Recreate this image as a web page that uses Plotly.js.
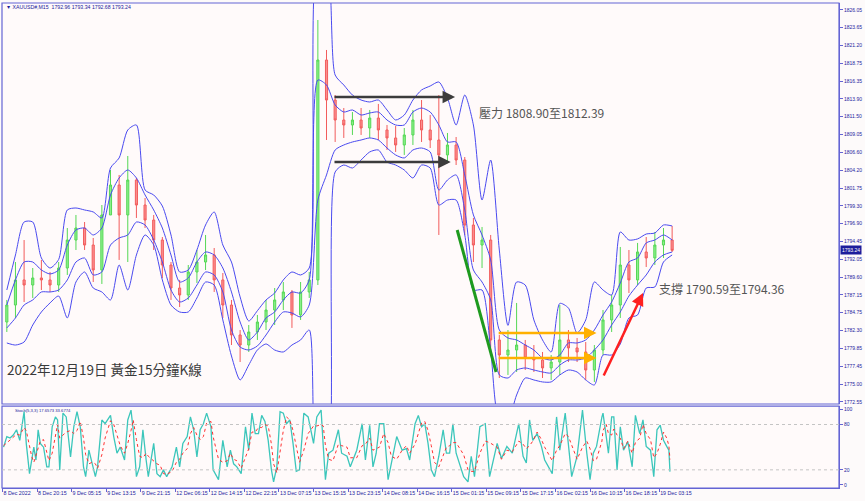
<!DOCTYPE html>
<html>
<head>
<meta charset="utf-8">
<script src="https://cdn.plot.ly/plotly-3.0.1.min.js"></script>
<style>
  html, body { margin: 0; padding: 0; background: #fdfafa; }
  #chart { width: 865px; height: 501px; }
</style>
</head>
<body>
<div id="chart"></div>
<script>
// ---------- data (15-minute bar index, 2-hour candles) ----------
const bars = [4,12,20,28,36,44,52,60,68,76,84,92,100,108,116,124,132,140,148,156,164,172,180,188,196,204,212,220,228,236,244,252,260,268,276,284,292,300,308,316,324,332,340,348,356,364,372,380,388,396,404,412,420,428,436,444,452,460,468,476,484,492,500,508,516,524,532,540,548,556,564,572,580,588,596,604,612,620];

const openP = [1783.46,1785.78,1789.20,1788.51,1789.47,1789.20,1788.51,1790.83,1794.65,1796.29,
  1793.97,1790.56,1798.07,1802.16,1798.07,1802.84,1799.43,1797.38,1794.65,1791.24,
  1788.10,1787.15,1790.29,1791.65,1792.61,1789.20,1785.78,1781.69,1780.32,1782.10,
  1783.46,1785.10,1786.47,1787.56,1784.42,1787.56,1789.20,1819.22,1813.76,1811.03,
  1810.35,1811.03,1809.94,1811.30,1809.67,1808.58,1807.62,1808.99,1811.03,1809.67,
  1808.30,1806.26,1807.62,1805.57,1796.70,1793.97,1794.65,1781.01,1778.96,1779.64,
  1780.32,1778.55,1778.28,1777.19,1778.00,1781.01,1779.92,1779.37,1776.91,1779.64,
  1783.74,1785.78,1791.24,1789.20,1793.02,1792.20,1793.97,1794.65];

const highP = [1786.47,1791.65,1794.65,1790.83,1791.93,1790.29,1791.65,1796.29,1798.07,1797.11,
  1794.93,1799.43,1804.21,1803.53,1806.12,1803.12,1800.39,1798.07,1795.06,1791.65,
  1789.20,1791.24,1793.29,1795.34,1793.56,1790.15,1786.47,1782.37,1783.05,1784.42,
  1786.47,1788.10,1788.92,1787.83,1788.92,1790.29,1824.68,1820.59,1814.44,1812.67,
  1812.12,1812.67,1812.40,1813.22,1810.35,1810.21,1809.94,1812.40,1813.76,1811.71,
  1814.44,1809.26,1808.71,1805.98,1797.66,1796.43,1795.34,1781.69,1782.37,1786.06,
  1781.01,1780.32,1779.37,1778.96,1785.78,1782.37,1781.28,1780.73,1780.32,1785.10,
  1787.15,1793.70,1793.29,1794.25,1795.06,1795.75,1796.29,1796.57];

const lowP = [1782.10,1784.01,1786.19,1786.74,1787.83,1787.56,1787.56,1789.88,1793.29,1793.29,
  1788.92,1788.65,1798.07,1791.93,1791.65,1797.66,1796.29,1793.29,1789.47,1786.47,
  1785.51,1786.47,1788.79,1790.56,1787.56,1784.01,1780.32,1778.00,1779.37,1781.01,
  1782.37,1783.05,1785.10,1782.65,1783.74,1786.74,1788.51,1808.30,1808.03,1808.58,
  1808.99,1808.99,1808.58,1808.30,1806.94,1806.67,1806.26,1807.62,1808.03,1807.21,
  1795.34,1805.30,1804.89,1795.34,1791.65,1790.83,1778.96,1775.82,1776.23,1776.64,
  1776.91,1776.64,1775.82,1775.55,1776.23,1778.00,1778.00,1775.55,1775.28,1778.96,
  1782.10,1784.01,1787.42,1788.51,1790.97,1791.24,1792.20,1793.02];

const closeP = [1785.78,1789.20,1788.51,1789.47,1789.20,1788.51,1790.83,1794.65,1796.29,1793.97,
  1790.56,1798.07,1802.16,1798.07,1802.84,1799.43,1797.38,1794.65,1791.24,1788.10,
  1787.15,1790.29,1791.65,1792.61,1789.20,1785.78,1781.69,1780.32,1782.10,1783.46,
  1785.10,1786.47,1787.56,1784.42,1787.56,1789.20,1819.22,1813.76,1811.03,1810.35,
  1811.03,1809.94,1811.30,1809.67,1808.58,1807.62,1808.99,1811.03,1809.67,1808.30,
  1806.26,1807.62,1805.57,1796.70,1793.97,1794.65,1781.01,1778.96,1779.64,1780.32,
  1778.55,1778.28,1777.19,1778.00,1781.01,1779.92,1779.37,1776.91,1779.64,1783.74,
  1785.78,1791.24,1789.20,1793.02,1792.20,1793.97,1794.65,1793.24];

// outer / inner envelope lines
const outerUpper = [1787.83,1792.61,1797.11,1797.11,1792.20,1790.83,1792.00,1798.75,1799.02,1798.75,
  1798.48,1797.66,1804.48,1805.85,1809.67,1810.35,1801.48,1800.80,1799.29,1795.34,
  1790.29,1790.56,1793.29,1796.70,1798.48,1793.97,1791.65,1786.88,1783.60,1785.00,
  1786.47,1787.42,1789.20,1790.29,1789.88,1790.83,1832.87,1832.87,1817.17,1815.81,
  1814.44,1813.76,1813.49,1813.76,1812.40,1811.03,1811.71,1813.76,1815.13,1815.67,
  1816.22,1814.04,1810.35,1814.44,1810.35,1800.11,1805.57,1793.29,1783.00,1788.92,
  1788.51,1783.74,1781.01,1779.37,1786.00,1785.37,1781.96,1783.74,1788.92,1787.83,
  1787.15,1795.75,1794.65,1794.80,1795.47,1795.61,1796.70,1796.57];

const innerUpper = [1785.78,1789.20,1791.65,1791.65,1790.56,1790.02,1790.56,1793.97,1796.02,1796.29,
  1795.34,1796.29,1800.80,1803.12,1804.21,1803.12,1800.80,1798.75,1796.29,1792.61,
  1788.92,1789.47,1791.65,1793.02,1792.61,1790.83,1787.56,1783.46,1781.01,1782.10,
  1784.01,1784.83,1786.47,1787.56,1787.42,1789.20,1816.49,1815.81,1813.08,1812.12,
  1812.40,1811.71,1811.99,1812.12,1811.03,1810.35,1810.35,1812.12,1812.67,1812.12,
  1810.35,1808.03,1808.03,1803.53,1798.07,1795.34,1791.93,1782.37,1781.28,1781.01,
  1780.32,1779.64,1778.55,1778.28,1778.96,1780.60,1780.60,1781.01,1782.37,1784.42,
  1786.19,1788.79,1791.65,1792.20,1794.25,1794.65,1795.34,1794.65];

const innerLower = [1782.65,1784.01,1785.78,1786.47,1787.56,1787.56,1787.83,1789.20,1791.65,1792.20,
  1789.88,1790.29,1793.97,1794.93,1795.34,1797.11,1796.70,1794.65,1791.65,1787.83,
  1786.19,1786.74,1788.51,1790.29,1789.88,1787.56,1782.37,1780.05,1779.64,1780.19,
  1781.69,1783.46,1784.83,1784.69,1784.15,1785.78,1800.11,1803.53,1806.94,1807.62,
  1808.03,1808.30,1808.58,1808.30,1807.21,1806.26,1805.85,1806.94,1807.21,1806.67,
  1801.48,1802.84,1803.53,1798.75,1790.56,1788.92,1786.47,1776.23,1775.82,1776.91,
  1777.19,1776.91,1776.64,1776.50,1777.59,1778.28,1778.28,1778.55,1779.64,1781.01,
  1783.05,1784.83,1787.01,1788.51,1789.88,1791.65,1792.61,1793.02];

const outerLower = [1780.60,1780.32,1780.73,1783.05,1784.83,1786.06,1787.01,1784.01,1788.92,1790.29,
  1788.10,1787.56,1786.47,1791.24,1787.83,1792.61,1795.34,1793.97,1789.20,1785.78,
  1784.83,1784.83,1786.74,1788.92,1788.51,1783.74,1778.82,1775.55,1777.59,1779.64,
  1780.46,1779.64,1779.37,1780.32,1781.01,1782.37,1761.90,1761.90,1803.94,1804.89,
  1804.48,1805.57,1806.67,1806.94,1805.30,1804.89,1804.21,1803.12,1804.89,1804.48,
  1799.43,1800.11,1800.11,1795.34,1787.83,1787.83,1779.64,1770.09,1770.09,1773.50,
  1775.82,1775.55,1775.28,1775.28,1776.23,1776.91,1776.64,1775.55,1774.87,1778.96,
  1778.96,1780.46,1784.01,1784.42,1788.10,1788.24,1791.65,1792.61];

// stochastic (5,3,3)
const stochBar = [1,4,7,10,13,16,20,22,25,27,29,31,33,35,38,41,43,46,49,51,53,56,59,63,66,69,72,75,77,80,83,86,88,92,95,100,103,106,109,113,116,119,121,124,127,130,133,135,140,143,146,149,152,157,161,164,167,171,174,177,180,183,186,189,193,195,200,204,208,211,214,217,221,225,228,231,234,237,240,243,246,249,251,254,257,260,263,266,269,272,275,279,283,288,291,295,297,299,302,306,311,314,319,322,328,333,336,340,343,346,349,353,357,360,365,370,374,377,382,385,388,391,394,397,400,404,408,411,414,417,420,427,431,434,437,442,447,451,458,462,467,472,478,482,485,488,491,495,499,502,509,513,516,521,524,527,532,537,541,544,547,550,555,556,559,561,564,566,569,572,575,579,583,586,590,593,596,600,603,606,609,612,615,617,618];

const stochMain = [50,64,62,66,73,59,97,55,15,33,50,33,73,55,50,24,24,77,90,86,20,95,90,37,77,97,77,24,11,46,28,11,24,86,81,92,64,42,50,33,86,99,73,11,24,73,33,11,55,15,11,20,11,24,50,24,55,64,90,73,37,73,81,95,77,20,7,59,24,46,28,24,15,77,46,95,68,68,92,84,59,20,4,24,97,95,81,86,55,18,20,95,90,55,90,99,51,7,42,46,73,42,38,24,46,81,33,79,24,42,81,81,7,29,64,46,48,33,81,92,77,81,55,20,11,38,73,42,42,81,42,11,4,38,11,77,81,11,55,35,51,42,81,38,29,86,59,68,51,33,15,90,46,95,51,11,38,99,42,7,42,51,90,95,64,42,90,90,20,77,46,57,24,92,68,86,51,46,11,73,79,59,51,46,17.66];

const stochSignal = [52,56,60,63,67,66,76,72,50,38,30,40,50,58,60,42,32,42,62,80,62,66,70,72,68,72,84,62,40,28,30,28,22,40,62,85,80,66,52,42,55,72,86,60,38,36,42,38,32,28,26,15,14,18,30,34,42,48,68,76,66,60,64,82,84,64,34,30,32,42,34,32,22,38,48,70,70,76,76,80,78,54,28,16,42,72,90,86,72,52,30,46,68,78,78,80,78,52,34,32,54,52,50,36,36,52,54,62,46,48,50,68,56,38,34,46,52,42,54,68,82,84,72,52,30,24,40,50,52,56,56,40,20,18,18,42,58,56,50,34,46,44,58,54,48,52,58,70,60,50,32,46,52,68,64,52,34,50,58,48,32,34,58,72,80,68,66,74,66,62,48,58,42,56,62,80,68,60,36,42,54,70,62,52,33.68];

// axis labels
const priceTicks = [1826.05,1823.65,1821.20,1818.75,1816.35,1813.90,1811.50,1809.05,1806.60,1804.20,1801.75,1799.30,1796.90,1794.45,1792.05,1789.60,1787.15,1784.75,1782.30,1779.85,1777.45,1775.00,1772.55];
const stochTicks = [0,20,80,100];
const timeTickBars = [0,32,64,96,128,160,192,224,256,288,320,352,384,416,448,480,512,544,576,608];
const timeTickLabels = ['8 Dec 2022','8 Dec 20:15','9 Dec 05:15','9 Dec 13:15','9 Dec 21:15','12 Dec 06:15','12 Dec 14:15','12 Dec 22:15','13 Dec 07:15','13 Dec 15:15','13 Dec 23:15','14 Dec 08:15','14 Dec 16:15','15 Dec 01:15','15 Dec 09:15','15 Dec 17:15','16 Dec 02:15','16 Dec 10:15','16 Dec 18:15','19 Dec 03:15'];
const lastPrice = 1793.24;

// ---------- traces ----------
const bandColor = '#4a4af0';
const bandLine = (y) => ({type:'scatter', mode:'lines', x:bars, y:y, xaxis:'x', yaxis:'y',
  line:{color:bandColor, width:1, shape:'spline', smoothing:0.7}, hoverinfo:'skip', showlegend:false});

const traces = [
  bandLine(outerUpper), bandLine(innerUpper), bandLine(innerLower), bandLine(outerLower),
  {type:'candlestick', x:bars, open:openP, high:highP, low:lowP, close:closeP, xaxis:'x', yaxis:'y',
   increasing:{line:{color:'#55d855', width:1}, fillcolor:'#8cef8c'},
   decreasing:{line:{color:'#f25c5c', width:1}, fillcolor:'#fb8f8f'},
   whiskerwidth:0, hoverinfo:'skip', showlegend:false},
  {type:'scatter', mode:'lines', x:stochBar, y:stochMain, xaxis:'x', yaxis:'y2',
   line:{color:'#3cc6bb', width:1.3}, hoverinfo:'skip', showlegend:false},
  {type:'scatter', mode:'lines', x:stochBar, y:stochSignal, xaxis:'x', yaxis:'y2',
   line:{color:'#ff3030', width:1, dash:'dot'}, hoverinfo:'skip', showlegend:false}
];

const axisBlue = '#6464d4';
const labelBlue = '#2323a0';
const smallFont = {family:'Liberation Sans, Arial, sans-serif', size:5, color:labelBlue};

const mainBottom = 0.1732, stochTop = 0.169;

const arrow = (x, y, ax, ay, color, w) => ({x:x, y:y, ax:ax, ay:ay, xref:'x', yref:'y', axref:'x', ayref:'y',
  text:'', showarrow:true, arrowhead:2, arrowsize:1, arrowwidth:w, arrowcolor:color, standoff:0, startstandoff:0});

const layout = {
  width:865, height:501,
  margin:{l:2, r:26, t:3, b:13, pad:0},
  paper_bgcolor:'#fdfafa', plot_bgcolor:'#fffafa',
  showlegend:false,
  boxgap:0.65,
  xaxis:{domain:[0,1], range:[-0.46,774.5], anchor:'y2', showgrid:false, zeroline:false,
    tickmode:'array', tickvals:timeTickBars, ticktext:timeTickLabels, tickangle:0,
    ticks:'outside', ticklen:3, tickcolor:axisBlue, ticklabelposition:'outside right',
    tickfont:{family:'Liberation Sans, Arial, sans-serif', size:5.3, color:labelBlue},
    showline:true, linecolor:axisBlue, linewidth:1,
    rangeslider:{visible:false}, fixedrange:true},
  yaxis:{domain:[mainBottom,1], range:[1772.27,1827.0], side:'right', showgrid:false, zeroline:false,
    tickmode:'array', tickvals:priceTicks, ticktext:priceTicks.map(v => v.toFixed(2)),
    ticks:'outside', ticklen:3, tickcolor:axisBlue, tickfont:smallFont,
    showline:true, linecolor:axisBlue, linewidth:1, fixedrange:true},
  yaxis2:{domain:[0,stochTop], range:[-4,104.4], side:'right', showgrid:false, zeroline:false,
    tickmode:'array', tickvals:stochTicks, ticktext:stochTicks.map(String),
    ticks:'outside', ticklen:3, tickcolor:axisBlue, tickfont:smallFont,
    showline:true, linecolor:axisBlue, linewidth:1, fixedrange:true},
  shapes:[
    {type:'rect', xref:'paper', yref:'paper', x0:0, x1:1, y0:mainBottom, y1:1, line:{color:axisBlue, width:1.2}},
    {type:'rect', xref:'paper', yref:'paper', x0:0, x1:1, y0:0, y1:stochTop, line:{color:axisBlue, width:1.2}},
    {type:'line', xref:'paper', yref:'y2', x0:0, x1:1, y0:20, y1:20, line:{color:'#c4c4c4', width:1, dash:'dot'}},
    {type:'line', xref:'paper', yref:'y2', x0:0, x1:1, y0:80, y1:80, line:{color:'#c4c4c4', width:1, dash:'dot'}},
    {type:'line', xref:'x', yref:'y', x0:421, y0:1796.02, x1:457, y1:1776.64, line:{color:'#1e9a1e', width:3}}
  ],
  annotations:[
    arrow(419, 1814.17, 306, 1814.17, '#3c3c3c', 2.5),
    arrow(415, 1805.30, 306, 1805.30, '#3c3c3c', 2.5),
    arrow(550, 1781.96, 458, 1781.96, '#ffb000', 2.5),
    arrow(550, 1778.55, 458, 1778.55, '#ffb000', 2.5),
    arrow(593, 1787.42, 556, 1775.96, '#ff2020', 2.5),
    {x:439.4, y:1811.99, xref:'x', yref:'y', xanchor:'left', yanchor:'middle', showarrow:false,
     text:'壓力 1808.90至1812.39', font:{family:'Noto Sans CJK TC, sans-serif', size:12, color:'#555555'}},
    {x:606, y:1788.10, xref:'x', yref:'y', xanchor:'left', yanchor:'middle', showarrow:false,
     text:'支撐 1790.59至1794.36', font:{family:'Noto Sans CJK TC, sans-serif', size:12, color:'#555555'}},
    {x:0.0036, y:0.2454, xref:'paper', yref:'paper', xanchor:'left', yanchor:'middle', showarrow:false,
     text:'2022年12月19日 黃金15分鐘K線', font:{family:'Noto Sans CJK TC, sans-serif', size:13.5, color:'#3a3a3a'}},
    {x:0.0024, y:0.9918, xref:'paper', yref:'paper', xanchor:'left', yanchor:'middle', showarrow:false,
     text:'▼ XAUUSD#,M15  1792.96 1793.34 1792.68 1793.24', font:{family:'Liberation Sans, Arial, sans-serif', size:5.2, color:'#1a1a9a'}},
    {x:0.0131, y:0.1608, xref:'paper', yref:'paper', xanchor:'left', yanchor:'middle', showarrow:false,
     text:'Stoch(5,3,3) 17.6573 33.6774', font:{family:'Liberation Sans, Arial, sans-serif', size:4.2, color:'#1a1a9a'}},
    {x:1, y:lastPrice, xref:'paper', yref:'y', xanchor:'left', yanchor:'middle', xshift:1, showarrow:false,
     text:lastPrice.toFixed(2), bgcolor:'#1d1d9b', borderpad:1,
     font:{family:'Liberation Sans, Arial, sans-serif', size:5, color:'#ffffff'}}
  ]
};

Plotly.newPlot('chart', traces, layout, {staticPlot:true, displayModeBar:false});
</script>
</body>
</html>
